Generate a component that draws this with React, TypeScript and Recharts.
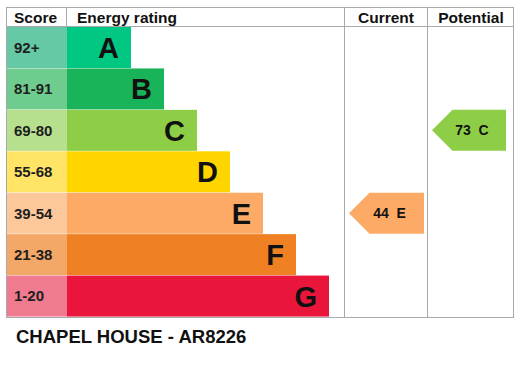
import React from 'react';
import { ComposedChart, Bar, XAxis, YAxis } from 'recharts';

const bands = ['A', 'B', 'C', 'D', 'E', 'F', 'G'];
const scoreRanges = ['92+', '81-91', '69-80', '55-68', '39-54', '21-38', '1-20'];
const scoreColWidth = [61, 61, 61, 61, 61, 61, 61];
const barLengths = [64, 97, 130, 163, 196, 229, 262];
const bandColors = ['#00c781', '#19b459', '#8dce46', '#ffd500', '#fcaa65', '#ef8023', '#e9153b'];
const scoreColors = ['#64c9a4', '#6ecd8e', '#b6df8e', '#ffe466', '#fdc79c', '#f4a868', '#f07a90'];

const currentScore = 44;
const currentBand = 'E';
const potentialScore = 73;
const potentialBand = 'C';

// columns on the same x scale as the bars
const CURRENT_COL = [343, 418];
const POTENTIAL_COL = [426, 500];

const FONT = '"Liberation Sans", Arial, sans-serif';
const LINE = '#a9a9a9';

const data = bands.map((b, i) => ({
  band: b,
  range: scoreRanges[i],
  scoreW: scoreColWidth[i],
  barW: barLengths[i],
  scoreColor: scoreColors[i],
  color: bandColors[i],
  current: b === currentBand ? CURRENT_COL : null,
  potential: b === potentialBand ? POTENTIAL_COL : null,
}));

const ScoreCell = (p: any) => {
  const { x, y, width, height, payload } = p;
  return (
    <g>
      <rect x={x} y={y} width={width} height={height} fill={payload.scoreColor} />
      <text x={x + 8} y={y + height / 2} dy="0.36em" fontSize={15} fontWeight="bold" fill="#1e1e1e" fontFamily={FONT}>
        {payload.range}
      </text>
    </g>
  );
};

const RatingBar = (p: any) => {
  const { x, y, width, height, payload } = p;
  return (
    <g>
      <rect x={x} y={y} width={width} height={height} fill={payload.color} />
      <text x={x + width - 12} y={y + height / 2} dy="0.36em" textAnchor="end" fontSize={29} fontWeight="bold" fill="#111" fontFamily={FONT}>
        {payload.band}
      </text>
    </g>
  );
};

const makeArrow = (score: number, band: string) => (p: any) => {
  const { x, y, width, height } = p;
  if (!width) return null;
  const tip = height / 2;
  const fill = bandColors[bands.indexOf(band)];
  const pts = [
    [x, y + height / 2],
    [x + tip, y],
    [x + width, y],
    [x + width, y + height],
    [x + tip, y + height],
  ].map((q) => q.join(',')).join(' ');
  return (
    <g>
      <polygon points={pts} fill={fill} />
      <text x={x + width / 2 + 3} y={y + height / 2} dy="0.36em" textAnchor="middle" fontSize={14} fontWeight="bold" fill="#111" fontFamily={FONT} style={{ whiteSpace: 'pre' }}>
        {`${score}  ${band}`}
      </text>
    </g>
  );
};

export default function App() {
  return (
    <div style={{ position: 'absolute', left: 0, top: 0, width: 519, height: 382, background: '#fff' }}>
      <ComposedChart
        width={519}
        height={382}
        data={data}
        layout="vertical"
        margin={{ top: 27, right: 6, bottom: 65, left: 6 }}
        barCategoryGap={0}
        barGap={0}
      >
        <XAxis type="number" domain={[0, 507]} hide />
        <YAxis yAxisId="main" type="category" dataKey="band" hide />
        <YAxis yAxisId="cur" type="category" dataKey="band" hide />
        <YAxis yAxisId="pot" type="category" dataKey="band" hide />
        <Bar yAxisId="main" dataKey="scoreW" stackId="a" shape={ScoreCell} isAnimationActive={false} />
        <Bar yAxisId="main" dataKey="barW" stackId="a" shape={RatingBar} isAnimationActive={false} />
        <Bar yAxisId="cur" dataKey="current" shape={makeArrow(currentScore, currentBand)} isAnimationActive={false} />
        <Bar yAxisId="pot" dataKey="potential" shape={makeArrow(potentialScore, potentialBand)} isAnimationActive={false} />
      </ComposedChart>
      <svg width={519} height={382} style={{ position: 'absolute', left: 0, top: 0, pointerEvents: 'none' }}>
        <g stroke={LINE} strokeWidth={1} fill="none">
          <rect x={6.5} y={7.5} width={507} height={310} />
          <line x1={6.5} y1={26.5} x2={513.5} y2={26.5} />
          <line x1={66.5} y1={7.5} x2={66.5} y2={26.5} />
          <line x1={344.5} y1={7.5} x2={344.5} y2={317.5} />
          <line x1={427.5} y1={7.5} x2={427.5} y2={317.5} />
        </g>
        <g fontFamily={FONT} fontWeight="bold" fontSize={15.5} fill="#111">
          <text x={14} y={23}>Score</text>
          <text x={77} y={23}>Energy rating</text>
          <text x={386} y={23} textAnchor="middle">Current</text>
          <text x={471} y={23} textAnchor="middle">Potential</text>
        </g>
        <text x={16} y={343} fontFamily={FONT} fontWeight="bold" fontSize={18.5} fill="#111">
          CHAPEL HOUSE - AR8226
        </text>
      </svg>
    </div>
  );
}
